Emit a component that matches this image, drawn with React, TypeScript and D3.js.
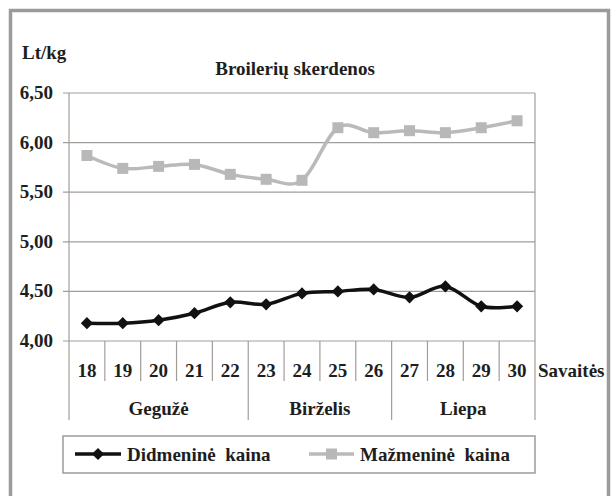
import React from "react";
import * as d3 from "d3";

const weeks = ["18", "19", "20", "21", "22", "23", "24", "25", "26", "27", "28", "29", "30"];
const wholesale = [4.18, 4.18, 4.21, 4.28, 4.39, 4.37, 4.48, 4.5, 4.52, 4.44, 4.55, 4.35, 4.35];
const retail = [5.87, 5.74, 5.76, 5.78, 5.68, 5.63, 5.62, 6.15, 6.1, 6.12, 6.1, 6.15, 6.22];
const yTicks = [4.0, 4.5, 5.0, 5.5, 6.0, 6.5];
const months = ["Gegužė", "Birželis", "Liepa"];
const monthStart = ["18", "23", "27"];
const monthEnd = ["22", "26", "30"];

const W = 613;
const H = 496;
const font = "Liberation Serif, Tinos, Times New Roman, serif";
const grid = "#a39d99";
const ink = "#1e1e1e";

const App = () => {
	const plot = { left: 69, right: 535, top: 93, bottom: 341 };

	const x = d3.scaleBand().domain(weeks).range([plot.left, plot.right]).padding(0);
	const y = d3.scaleLinear().domain([4, 6.5]).range([plot.bottom, plot.top]);
	const cx = (w: string) => (x(w) as number) + x.bandwidth() / 2;

	// Excel-like smoothed line
	const line = d3
		.line<number>()
		.x((d, i) => cx(weeks[i]))
		.y((d) => y(d))
		.curve(d3.curveCardinal.tension(0));

	const fmt = (v: number) => v.toFixed(2).replace(".", ",");
	const diamond = d3.symbol().type(d3.symbolDiamond2).size(95)();

	const rowBottom = 381;
	const axisBottom = 420;

	return (
		<svg width={W} height={H} style={{ position: "absolute", left: 0, top: 0, fontFamily: font, fontWeight: "bold" }}>
			<rect x={0} y={0} width={W} height={H} fill="#fff" />
			{/* frame */}
			<rect x={10.5} y={10.5} width={598} height={500} fill="none" stroke="#9b9b9b" strokeWidth={3.5} />

			<text x={22} y={59} fontSize={19} fill={ink}>Lt/kg</text>
			<text x={295} y={75} fontSize={19} fill={ink} textAnchor="middle">Broilerių skerdenos</text>

			{/* grid + y axis */}
			{yTicks.map((t) => (
				<g key={t}>
					<line x1={plot.left - 6} x2={plot.right} y1={y(t)} y2={y(t)} stroke={grid} strokeWidth={1.2} />
					<text x={plot.left - 16} y={y(t) + 6} fontSize={19} fill={ink} textAnchor="end">{fmt(t)}</text>
				</g>
			))}
			<line x1={plot.left} x2={plot.left} y1={plot.top} y2={axisBottom} stroke={grid} strokeWidth={1.2} />
			<line x1={plot.right} x2={plot.right} y1={plot.top} y2={axisBottom} stroke={grid} strokeWidth={1.2} />

			{/* week categories */}
			{weeks.map((w, i) => (
				<g key={w}>
					{i > 0 && (
						<line
							x1={x(w) as number}
							x2={x(w) as number}
							y1={plot.bottom}
							y2={monthStart.includes(w) ? axisBottom : rowBottom}
							stroke={grid}
							strokeWidth={1.2}
						/>
					)}
					<text x={cx(w)} y={377} fontSize={19} fill={ink} textAnchor="middle">{w}</text>
				</g>
			))}
			<text x={plot.right + 3} y={377} fontSize={19} fill={ink}>Savaitės</text>

			{months.map((m, i) => {
				const a = x(monthStart[i]) as number;
				const b = (x(monthEnd[i]) as number) + x.bandwidth();
				return (
					<text key={m} x={(a + b) / 2} y={415} fontSize={19} fill={ink} textAnchor="middle">{m}</text>
				);
			})}

			{/* series */}
			<path d={line(retail) || ""} fill="none" stroke="#bababa" strokeWidth={3.5} />
			{retail.map((v, i) => (
				<rect key={i} x={cx(weeks[i]) - 5.5} y={y(v) - 5.5} width={11} height={11} fill="#b8b8b8" />
			))}
			<path d={line(wholesale) || ""} fill="none" stroke="#111" strokeWidth={3.5} />
			{wholesale.map((v, i) => (
				<path key={i} d={diamond || ""} transform={`translate(${cx(weeks[i])},${y(v)})`} fill="#111" />
			))}

			{/* legend */}
			<rect x={63} y={436} width={472} height={37} fill="#fff" stroke="#a09a98" strokeWidth={1.5} />
			<line x1={75} x2={121} y1={454} y2={454} stroke="#111" strokeWidth={3.5} />
			<path d={diamond || ""} transform="translate(98,454)" fill="#111" />
			<text x={127} y={461} fontSize={19} fill={ink} style={{ whiteSpace: "pre" }}>{"Didmeninė  kaina"}</text>
			<line x1={309} x2={354} y1={454} y2={454} stroke="#bababa" strokeWidth={3.5} />
			<rect x={326} y={448.5} width={11} height={11} fill="#b8b8b8" />
			<text x={360} y={461} fontSize={19} fill={ink} style={{ whiteSpace: "pre" }}>{"Mažmeninė  kaina"}</text>
		</svg>
	);
};

export default App;
